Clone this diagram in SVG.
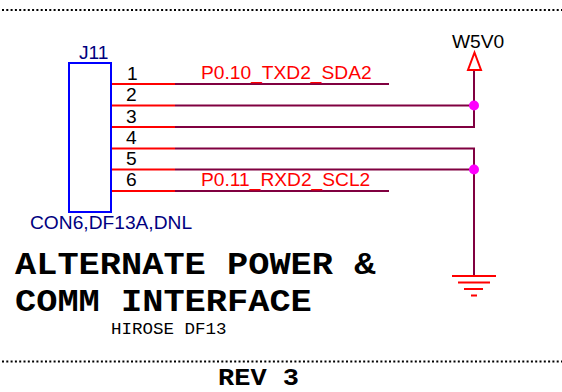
<svg xmlns="http://www.w3.org/2000/svg" width="562" height="392" viewBox="0 0 562 392">
<style>
.s{font-family:"Liberation Sans",Arial,sans-serif;font-size:19.2px}
.b{fill:#000080}.k{fill:#000}.r{fill:#f00}
.m{font-family:"Liberation Mono","Courier New",monospace}
.t{font-size:30.500px;font-weight:bold;fill:#000}
.w{stroke:#800040;stroke-width:2;fill:none}
.p{stroke:#f00;stroke-width:2;fill:none}
.d{stroke:#000;stroke-width:2;stroke-dasharray:2 2.300;fill:none}
</style>
<rect width="562" height="392" fill="#fff"/>
<path class="d" d="M2 10H562"/>
<path class="d" d="M2 361.500H562"/>
<g id="connectors">
<path class="w" d="M175 84H389M175 105.500H474M175 127H474V70M175 148.500H474V276M175 169.500H474M175 191H389"/>
<path class="p" d="M111 84H175M111 105.500H175M111 127H175M111 148.500H175M111 169.500H175M111 191H175"/>
</g>
<g id="J11">
<rect x="69" y="63" width="42" height="149" fill="#fff" stroke="#00f" stroke-width="2"/>
<text class="s b" x="79" y="59">J11</text>
<text class="s k" x="127" y="80">1</text>
<text class="s k" x="126" y="101">2</text>
<text class="s k" x="126" y="123">3</text>
<text class="s k" x="126" y="144">4</text>
<text class="s k" x="126" y="165">5</text>
<text class="s k" x="126" y="186">6</text>
<text class="s b" x="30" y="229">CON6,DF13A,DNL</text>
</g>
<g id="nets">
<text class="s r" x="201" y="79">P0.10_TXD2_SDA2</text>
<text class="s r" x="201" y="186">P0.11_RXD2_SCL2</text>
</g>
<g id="W5V0">
<text class="s k" x="452" y="48">W5V0</text>
<path class="p" d="M468 70H481L474.500 52.500Z"/>
</g>
<g id="junctions" fill="#f0f">
<circle cx="474" cy="105.500" r="5"/>
<circle cx="474" cy="169.500" r="5"/>
</g>
<g id="GND" class="p">
<path d="M452 276H496M458 282.500H490M464 289H483M471 295.500H477"/>
</g>
<text class="m t" x="15" y="274" textLength="360.400" lengthAdjust="spacingAndGlyphs">ALTERNATE POWER &amp;</text>
<text class="m t" x="15" y="311" textLength="296.800" lengthAdjust="spacingAndGlyphs">COMM INTERFACE</text>
<text class="m" x="111" y="334" font-size="17" textLength="115.500" lengthAdjust="spacingAndGlyphs" fill="#000">HIROSE DF13</text>
<text class="m" x="218" y="385" font-size="23" font-weight="bold" textLength="81" lengthAdjust="spacingAndGlyphs" fill="#000">REV 3</text>
</svg>
